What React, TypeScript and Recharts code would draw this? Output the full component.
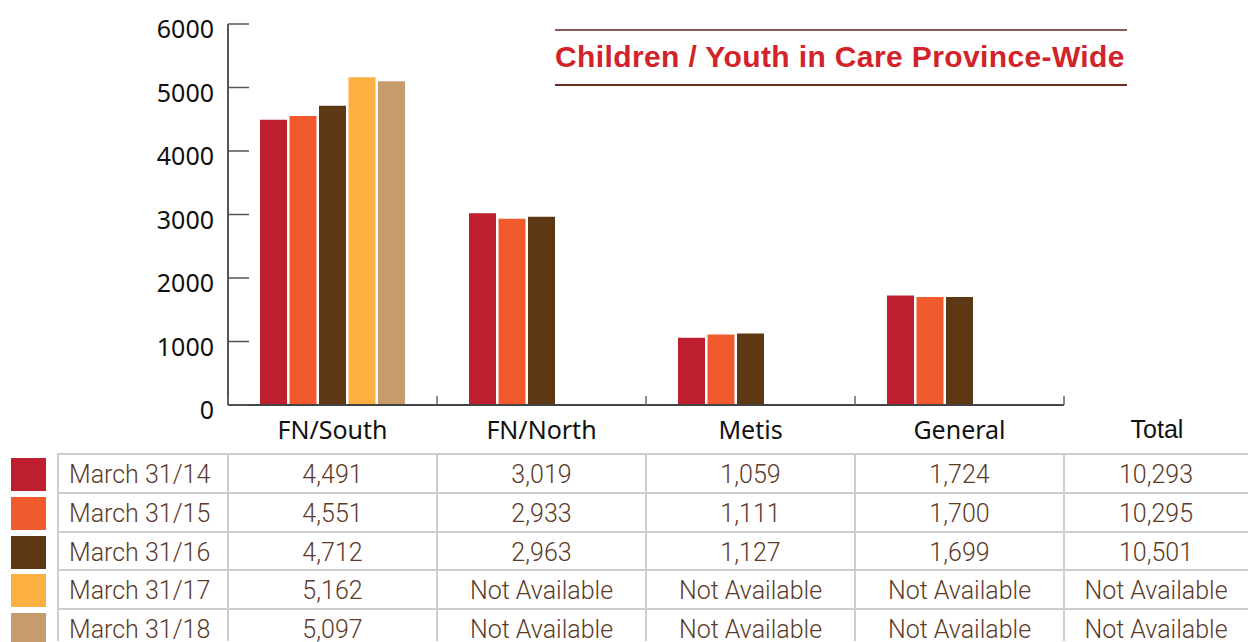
import { BarChart, Bar, XAxis, YAxis } from 'recharts'

const categories = ['FN/South', 'FN/North', 'Metis', 'General']
const seriesLabels = ['March 31/14', 'March 31/15', 'March 31/16', 'March 31/17', 'March 31/18']
const seriesColors = ['#bf1e2e', '#f15a2c', '#5e3714', '#fbb041', '#c69c6d']

const march14 = [4491, 3019, 1059, 1724]
const march15 = [4551, 2933, 1111, 1700]
const march16 = [4712, 2963, 1127, 1699]
const march17 = [5162, null, null, null]
const march18 = [5097, null, null, null]

const totals = [10293, 10295, 10501, null, null]
const yTicks = [0, 1000, 2000, 3000, 4000, 5000, 6000]

const seriesValues = [march14, march15, march16, march17, march18]
const seriesKeys = ['m14', 'm15', 'm16', 'm17', 'm18']

const chartData = categories.map((category, i) => {
  const row: any = { category }
  seriesKeys.forEach((key, s) => {
    row[key] = seriesValues[s][i]
  })
  return row
})

// layout
const W = 1248
const H = 642
const PLOT_LEFT = 228
const PLOT_RIGHT = 1064
const PLOT_TOP = 24
const PLOT_BOTTOM = 405
const BAND = (PLOT_RIGHT - PLOT_LEFT) / categories.length
const Y_AXIS_W = 80
const X_AXIS_H = 40

const TABLE_TOP = 454
const ROW_H = 38.8
const colEdges = [58, 228, 437, 646, 855, 1064, 1260]
const GRID = '#cdcdcd'
const TEXT_BROWN = '#5b3a29'

const fmt = (v: number | null) => (v == null ? 'Not Available' : v.toLocaleString('en-US'))

function YTick({ y, payload }: any) {
  return (
    <g>
      <line x1={PLOT_LEFT} x2={PLOT_LEFT + 21} y1={y} y2={y} stroke="#555" strokeWidth={1.5} />
      <text
        x={PLOT_LEFT - 14}
        y={y + 4}
        textAnchor="end"
        dominantBaseline="central"
        fontSize={25}
        fontFamily="'Noto Sans', sans-serif"
        fill="#111"
      >
        {payload.value}
      </text>
    </g>
  )
}

function XTick({ x, payload, index }: any) {
  const left = x - BAND / 2
  const right = x + BAND / 2
  return (
    <g>
      <line x1={left} x2={left} y1={PLOT_BOTTOM} y2={PLOT_BOTTOM - 9} stroke="#666" strokeWidth={1.5} />
      {index === categories.length - 1 && (
        <line x1={right} x2={right} y1={PLOT_BOTTOM} y2={PLOT_BOTTOM - 9} stroke="#666" strokeWidth={1.5} />
      )}
      <text
        x={x}
        y={429}
        textAnchor="middle"
        dominantBaseline="central"
        fontSize={25}
        fontFamily="'Noto Sans', sans-serif"
        fill="#111"
      >
        {payload.value}
      </text>
    </g>
  )
}

export default function App() {
  const tableText = {
    position: 'absolute' as const,
    fontFamily: 'Roboto, sans-serif',
    fontWeight: 300,
    fontSize: 25,
    color: TEXT_BROWN,
    lineHeight: `${ROW_H}px`,
    whiteSpace: 'nowrap' as const,
  }

  return (
    <div style={{ position: 'absolute', left: 0, top: 0, width: W, height: H, overflow: 'hidden', background: '#fff' }}>
      <BarChart
        width={W}
        height={H}
        data={chartData}
        margin={{
          top: PLOT_TOP,
          right: W - PLOT_RIGHT,
          bottom: H - PLOT_BOTTOM - X_AXIS_H,
          left: PLOT_LEFT - Y_AXIS_W,
        }}
        barCategoryGap={32}
        barGap={2.5}
      >
        <XAxis
          dataKey="category"
          height={X_AXIS_H}
          interval={0}
          tickLine={false}
          axisLine={{ stroke: '#444', strokeWidth: 2 }}
          tick={<XTick />}
        />
        <YAxis
          width={Y_AXIS_W}
          domain={[0, 6000]}
          ticks={yTicks}
          interval={0}
          tickLine={false}
          axisLine={{ stroke: '#555', strokeWidth: 2 }}
          tick={<YTick />}
        />
        {seriesKeys.map((key, s) => (
          <Bar key={key} dataKey={key} name={seriesLabels[s]} fill={seriesColors[s]} isAnimationActive={false} />
        ))}
      </BarChart>

      {/* title block */}
      <div style={{ position: 'absolute', left: 555, top: 29, width: 572, height: 2, background: '#8a5a55' }} />
      <div
        style={{
          position: 'absolute',
          left: 555,
          top: 39,
          fontFamily: "'Liberation Sans', Arial, sans-serif",
          fontWeight: 700,
          fontSize: 30,
          letterSpacing: 0.38,
          color: '#d2232a',
          whiteSpace: 'nowrap',
          lineHeight: '36px',
        }}
      >
        Children / Youth in Care Province-Wide
      </div>
      <div style={{ position: 'absolute', left: 555, top: 84, width: 572, height: 2, background: '#6b2a22' }} />

      {/* total header */}
      <div
        style={{
          position: 'absolute',
          left: colEdges[5],
          width: 186,
          top: 412,
          textAlign: 'center',
          fontFamily: "'Liberation Sans', Arial, sans-serif",
          fontSize: 25,
          lineHeight: '34px',
          color: '#111',
        }}
      >
        Total
      </div>

      {/* data table */}
      {seriesLabels.map((label, r) => {
        const top = TABLE_TOP + r * ROW_H
        const vals = [...seriesValues[r], totals[r]]
        return (
          <div key={label}>
            <div
              style={{
                position: 'absolute',
                left: 11,
                top: top + 4,
                width: 35,
                height: 33,
                background: seriesColors[r],
              }}
            />
            <div style={{ ...tableText, left: 69, top: top + 2 }}>{label}</div>
            {vals.map((v, c) => (
              <div
                key={c}
                style={{
                  ...tableText,
                  left: colEdges[c + 1],
                  width: colEdges[c + 2] - colEdges[c + 1] - (c === 4 ? 12 : 0),
                  top: top + 2,
                  textAlign: 'center',
                }}
              >
                {fmt(v)}
              </div>
            ))}
            <div style={{ position: 'absolute', left: colEdges[0], top: top - 1, width: W, height: 2, background: GRID }} />
          </div>
        )
      })}
      {colEdges.slice(0, 6).map((x, i) => (
        <div key={i} style={{ position: 'absolute', left: x - 1, top: TABLE_TOP - 1, width: 2, height: H - TABLE_TOP, background: GRID }} />
      ))}
    </div>
  )
}
